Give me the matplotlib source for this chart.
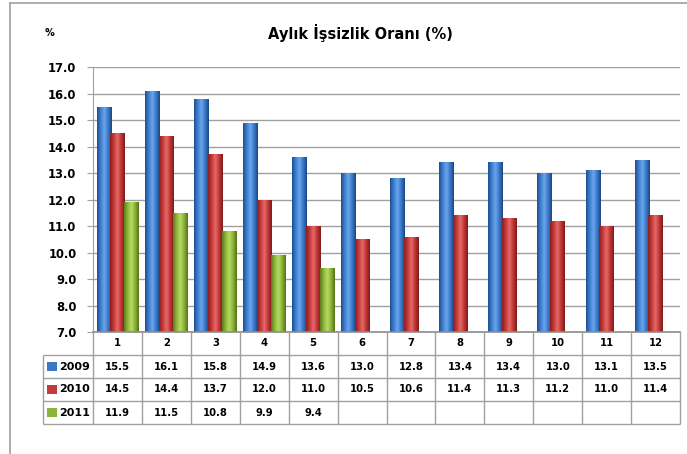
import numpy as np
import matplotlib
matplotlib.use("Agg")
import matplotlib.pyplot as plt
import matplotlib.colors as mcolors
from matplotlib.patches import Rectangle
from matplotlib.lines import Line2D

# ---------------------------------------------------------
# Data
# ---------------------------------------------------------
months = [1, 2, 3, 4, 5, 6, 7, 8, 9, 10, 11, 12]
years = ["2009", "2010", "2011"]
rate_2009 = [15.5, 16.1, 15.8, 14.9, 13.6, 13.0, 12.8, 13.4, 13.4, 13.0, 13.1, 13.5]
rate_2010 = [14.5, 14.4, 13.7, 12.0, 11.0, 10.5, 10.6, 11.4, 11.3, 11.2, 11.0, 11.4]
rate_2011 = [11.9, 11.5, 10.8, 9.9, 9.4]
series = [rate_2009, rate_2010, rate_2011]

title = "Aylık İşsizlik Oranı (%)"
y_ticks = np.arange(7, 18, 1)

# ---------------------------------------------------------
# Style
# ---------------------------------------------------------
plt.rcParams['font.family'] = ['DejaVu Sans']
plt.rcParams['font.weight'] = 'bold'

# dark edge -> light centre -> dark edge, per series
bar_cmaps = [
    mcolors.LinearSegmentedColormap.from_list(
        "blue", ["#1d4f91", "#3f7fd0", "#6aa6ec", "#3a78c8", "#1a4784"]),
    mcolors.LinearSegmentedColormap.from_list(
        "red", ["#8c1d1d", "#c43a3a", "#e56a68", "#c03636", "#7e1a1a"]),
    mcolors.LinearSegmentedColormap.from_list(
        "green", ["#5d7a1c", "#8fb83a", "#b8da66", "#89b234", "#56711a"]),
]
swatch_colors = ["#3b78c6", "#c23a3a", "#8bb53a"]
line_gray = "#a0a0a0"

W, H = 687, 454
fig = plt.figure(figsize=(W / 100, H / 100), dpi=100)


def px_rect(x0, y0, x1, y1):
    # pixel box (top-left origin) -> figure fraction rect
    return [x0 / W, 1 - y1 / H, (x1 - x0) / W, (y1 - y0) / H]


# outer chart border (top + left visible)
fig.add_artist(Line2D([10 / W, 10 / W], [0, 1 - 3 / H], color=line_gray, lw=1.2,
                      transform=fig.transFigure))
fig.add_artist(Line2D([10 / W, 1], [1 - 3 / H, 1 - 3 / H], color=line_gray, lw=1.2,
                      transform=fig.transFigure))

# ---------------------------------------------------------
# Bar chart
# ---------------------------------------------------------
ax = fig.add_axes(px_rect(93, 67, 680, 332))
x = np.array(months, dtype=float)
width = 0.295
offsets = [-0.28, 0.0, 0.28]
grad = np.linspace(0, 1, 64).reshape(1, -1)

for vals, off, cmap in zip(series, offsets, bar_cmaps):
    xs = x[:len(vals)] + off
    bars = ax.bar(xs, np.array(vals) - 7, width=width, bottom=7,
                  color="none", edgecolor="none", zorder=3)
    for b in bars:
        x0, y0 = b.get_x(), b.get_y()
        im = ax.imshow(grad, cmap=cmap, aspect="auto", interpolation="bilinear",
                       extent=[x0, x0 + b.get_width(), y0, y0 + b.get_height()],
                       zorder=3)
        im.set_clip_path(b)

ax.set_xlim(0.5, 12.5)
ax.set_ylim(7, 17)
ax.set_yticks(y_ticks)
ax.set_yticklabels([f"{v:.1f}" for v in y_ticks], fontsize=8.3, fontweight="bold")
ax.set_xticks([])
ax.yaxis.grid(True, color=line_gray, lw=1)
ax.set_axisbelow(True)
for s in ["top", "right", "bottom"]:
    ax.spines[s].set_visible(False)
ax.spines["left"].set_color(line_gray)
ax.tick_params(axis="y", length=4, color=line_gray, pad=8)

fig.text(45 / W, 1 - 33 / H, "%", fontsize=7, fontweight="bold", va="center")
fig.text(360 / W, 1 - 33 / H, title, fontsize=10.5, fontweight="bold",
         ha="center", va="center")

# ---------------------------------------------------------
# Data table under the chart
# ---------------------------------------------------------
unit = (680 - 93) / 12.0
left = 0.5 - (93 - 43) / unit
tax = fig.add_axes(px_rect(43, 332, 680, 424))
tax.set_xlim(left, 12.5)
tax.set_ylim(0, 4)
tax.axis("off")

lk = dict(color=line_gray, lw=1, solid_capstyle="butt", clip_on=False)
tax.plot([0.5, 12.5], [4, 4], color="#8c8c8c", lw=1.2, clip_on=False)
for yy in [3, 2, 1, 0]:
    tax.plot([left, 12.5], [yy, yy], **lk)
tax.plot([left, left], [0, 3], **lk)
for xx in np.arange(0.5, 13.0, 1.0):
    tax.plot([xx, xx], [0, 4], **lk)

tfs = 7.2
for m in months:
    tax.text(m, 3.5, str(m), ha="center", va="center", fontsize=tfs, fontweight="bold")

for r, (yr, vals) in enumerate(zip(years, series)):
    yc = 2.5 - r
    tax.add_patch(Rectangle((left + 4 / unit, yc - 0.2), 10 / unit, 0.4,
                            facecolor=swatch_colors[r], edgecolor="none"))
    tax.text(left + 16 / unit, yc, yr, ha="left", va="center",
             fontsize=8.0, fontweight="bold")
    for m, v in zip(months, vals):
        tax.text(m, yc, f"{v:.1f}", ha="center", va="center",
                 fontsize=tfs, fontweight="bold")

fig.savefig("out.png", dpi=100)
